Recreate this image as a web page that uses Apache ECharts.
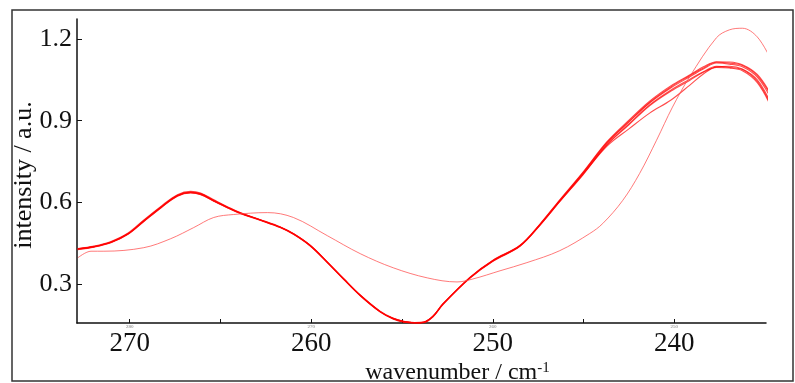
<!DOCTYPE html>
<html>
<head>
<meta charset="utf-8">
<script src="https://cdn.jsdelivr.net/npm/echarts@6/dist/echarts.min.js"></script>
<style>html,body{margin:0;padding:0;background:#fff}#c{width:795px;height:383px}</style>
</head>
<body>
<div id="c"></div>
<script>
// x positions (wavenumber, cm-1) of the main group of spectra
const wavenumbers = [272.86, 271.95, 271.03, 270.11, 269.2, 268.28, 267.37, 266.64, 266.09, 265.36, 264.62, 263.89, 262.79, 261.69, 260.96, 260.04, 259.13, 258.21, 257.3, 256.2, 255.5, 254.9, 254.3, 253.8, 253.3, 252.74, 251.25, 249.99, 248.5, 247.4, 246.31, 245.04, 243.72, 242.5, 241.36, 240.2, 239.16, 238.4, 237.68, 236.97, 236.25, 235.43, 234.66];
const spectrumA = [0.428, 0.437, 0.453, 0.483, 0.533, 0.582, 0.625, 0.637, 0.631, 0.606, 0.582, 0.560, 0.535, 0.508, 0.483, 0.440, 0.381, 0.318, 0.258, 0.198, 0.173, 0.161, 0.157, 0.159, 0.180, 0.226, 0.323, 0.385, 0.440, 0.518, 0.606, 0.706, 0.817, 0.895, 0.965, 1.020, 1.061, 1.090, 1.112, 1.108, 1.098, 1.060, 0.980];
const spectrumB = [0.430, 0.439, 0.456, 0.486, 0.536, 0.585, 0.628, 0.640, 0.634, 0.609, 0.584, 0.561, 0.536, 0.509, 0.484, 0.441, 0.382, 0.319, 0.259, 0.199, 0.174, 0.162, 0.158, 0.160, 0.181, 0.227, 0.325, 0.387, 0.442, 0.520, 0.609, 0.710, 0.822, 0.902, 0.972, 1.028, 1.068, 1.098, 1.117, 1.116, 1.106, 1.070, 0.995];
const spectrumC = [0.427, 0.436, 0.452, 0.482, 0.531, 0.580, 0.623, 0.635, 0.629, 0.604, 0.580, 0.559, 0.534, 0.507, 0.482, 0.439, 0.380, 0.317, 0.257, 0.197, 0.172, 0.160, 0.156, 0.158, 0.179, 0.225, 0.322, 0.384, 0.439, 0.516, 0.603, 0.703, 0.812, 0.888, 0.958, 1.012, 1.052, 1.080, 1.100, 1.096, 1.088, 1.045, 0.955];
const spectrumD = [0.429, 0.438, 0.454, 0.484, 0.534, 0.583, 0.626, 0.638, 0.632, 0.607, 0.583, 0.561, 0.535, 0.508, 0.483, 0.440, 0.381, 0.318, 0.258, 0.198, 0.173, 0.161, 0.157, 0.159, 0.180, 0.226, 0.324, 0.386, 0.441, 0.519, 0.607, 0.708, 0.819, 0.898, 0.968, 1.024, 1.065, 1.094, 1.115, 1.112, 1.103, 1.066, 0.990];
const spectrumE = [0.428, 0.437, 0.453, 0.483, 0.532, 0.581, 0.624, 0.636, 0.630, 0.605, 0.581, 0.560, 0.535, 0.508, 0.483, 0.440, 0.381, 0.318, 0.258, 0.198, 0.173, 0.161, 0.157, 0.159, 0.180, 0.226, 0.323, 0.385, 0.440, 0.517, 0.604, 0.702, 0.806, 0.870, 0.928, 0.975, 1.030, 1.072, 1.098, 1.100, 1.090, 1.050, 0.962];
const spectrumF = [0.426, 0.435, 0.451, 0.481, 0.530, 0.579, 0.622, 0.634, 0.628, 0.604, 0.580, 0.558, 0.533, 0.506, 0.481, 0.438, 0.379, 0.316, 0.256, 0.196, 0.171, 0.159, 0.156, 0.157, 0.178, 0.224, 0.321, 0.383, 0.438, 0.515, 0.602, 0.700, 0.810, 0.885, 0.955, 1.008, 1.048, 1.078, 1.096, 1.094, 1.084, 1.040, 0.950];
// the distinct (outlier) spectrum
const wavenumbersOut = [272.85, 272.13, 271.42, 269.22, 267.74, 266.47, 265.37, 264.27, 262.41, 260.98, 259.11, 257.3, 255.48, 253.61, 251.97, 251.09, 249.6, 248.12, 246.31, 244.66, 243.94, 242.85, 241.91, 240.98, 240.1, 239.16, 237.68, 236.97, 236.25, 235.43, 234.66];
const spectrumOut = [0.396, 0.420, 0.420, 0.433, 0.466, 0.507, 0.544, 0.555, 0.562, 0.544, 0.477, 0.411, 0.359, 0.322, 0.307, 0.318, 0.348, 0.378, 0.422, 0.485, 0.522, 0.606, 0.706, 0.828, 0.950, 1.061, 1.205, 1.234, 1.240, 1.208, 1.123];

const xTickValues = [240, 245, 250, 255, 260, 265, 270];
const xLabelValues = [240, 250, 260, 270];
const xGhostLabels = {270: '280', 260: '270', 250: '260', 240: '250'};
const yLabelValues = [0.3, 0.6, 0.9, 1.2];

const SERIF = '"Liberation Serif", "DejaVu Serif", serif';
const chart = echarts.init(document.getElementById('c'), null, {renderer: 'canvas'});

const groupSpectra = [spectrumA, spectrumB, spectrumC, spectrumD, spectrumE, spectrumF];
const series = groupSpectra.map(vals => ({
  type: 'line',
  data: wavenumbers.map((x, i) => [x, vals[i]]),
  smooth: 0.35,
  symbol: 'none',
  clip: false,
  lineStyle: {color: '#ff0000', width: 1.1, opacity: 0.7},
  silent: true
}));
series.push({
  type: 'line',
  data: wavenumbersOut.map((x, i) => [x, spectrumOut[i]]),
  smooth: 0.35,
  symbol: 'none',
  clip: false,
  lineStyle: {color: '#ff4d4d', width: 1, opacity: 0.75},
  silent: true
});

chart.setOption({
  animation: false,
  backgroundColor: '#fff',
  grid: {left: 77, right: 29, top: 19, bottom: 60, containLabel: false, outerBoundsMode: 'none'},
  xAxis: {
    type: 'value',
    inverse: true,
    min: 234.95,
    max: 272.9,
    name: '{a|wavenumber / cm}{b|-1}',
    nameLocation: 'middle',
    nameGap: 38,
    nameMoveOverlap: false,
    nameTextStyle: {
      padding: [0, 0, 0, 72],
      rich: {
        a: {fontFamily: SERIF, fontSize: 24, color: '#111', verticalAlign: 'bottom'},
        b: {fontFamily: SERIF, fontSize: 15, color: '#111', verticalAlign: 'top', padding: [0, 0, 4, 0]}
      }
    },
    axisLine: {lineStyle: {color: '#111', width: 1.5}},
    axisTick: {inside: true, length: 4, customValues: xTickValues, lineStyle: {color: '#111', width: 1}},
    splitLine: {show: false},
    axisLabel: {
      customValues: xLabelValues,
      margin: 1,
      formatter: v => `{s|${xGhostLabels[v]}}\n{m|${v}}`,
      rich: {
        s: {fontFamily: SERIF, fontSize: 5, color: '#777', lineHeight: 6},
        m: {fontFamily: SERIF, fontSize: 27, color: '#111', lineHeight: 27}
      }
    }
  },
  yAxis: {
    type: 'value',
    min: 0.156,
    max: 1.274,
    name: 'intensity / a.u.',
    nameLocation: 'middle',
    nameGap: 40,
    nameMoveOverlap: false,
    nameTextStyle: {fontFamily: SERIF, fontSize: 26, color: '#111', padding: [0, 8, 0, 0]},
    axisLine: {show: true, lineStyle: {color: '#111', width: 1.5}},
    axisTick: {show: true, inside: true, length: 5, customValues: yLabelValues, lineStyle: {color: '#111', width: 1}},
    splitLine: {show: false},
    axisLabel: {
      customValues: yLabelValues,
      margin: 5,
      fontFamily: SERIF, fontSize: 26, color: '#111',
      formatter: v => v.toFixed(1)
    }
  },
  graphic: [{
    type: 'rect',
    shape: {x: 12, y: 10, width: 781, height: 371},
    style: {fill: 'none', stroke: '#333', lineWidth: 1.5},
    silent: true,
    z: 100
  }],
  series: series
});
</script>
</body>
</html>
